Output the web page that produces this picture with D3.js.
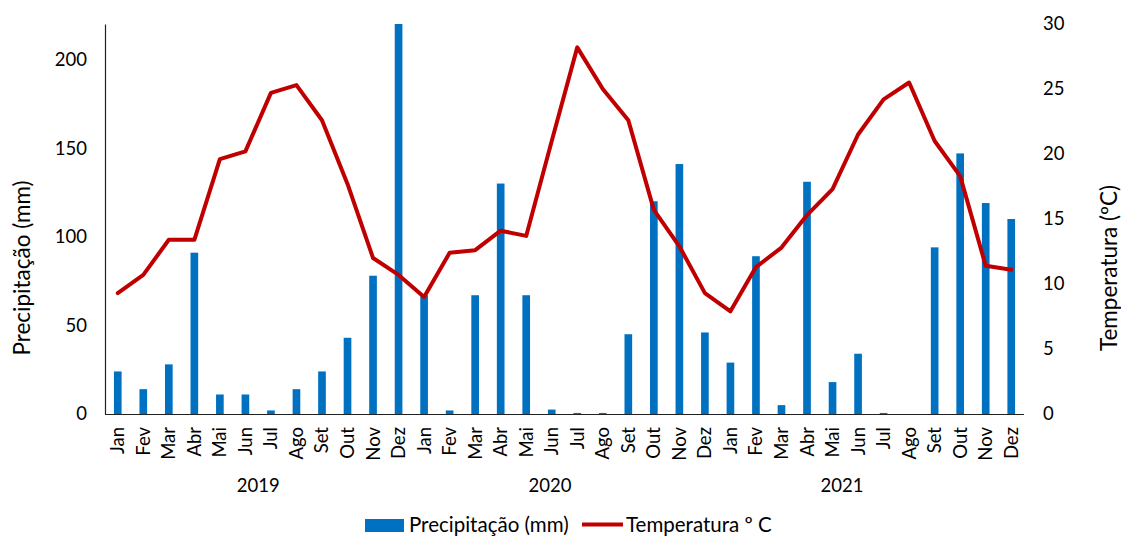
<!DOCTYPE html>
<html>
<head>
<meta charset="utf-8">
<script src="https://cdn.jsdelivr.net/npm/d3@7"></script>
<style>
  html, body { margin: 0; padding: 0; background: #fff; }
  svg { display: block; font-family: Lato, "Open Sans", sans-serif; }
</style>
</head>
<body>
<svg id="chart" width="1121" height="537"></svg>
<script>
// Monthly labels (pt-BR), three years of observations
const months = ["Jan","Fev","Mar","Abr","Mai","Jun","Jul","Ago","Set","Out","Nov","Dez"];
const years = ["2019","2020","2021"];

// Monthly precipitation, mm (2019–2021)
const precipitation = [
  24, 14, 28, 91, 11, 11, 2, 14, 24, 43, 78, 220,
  67, 2, 67, 130, 67, 2.5, 0.6, 0.6, 45, 120, 141, 46,
  29, 89, 5, 131, 18, 34, 0.6, 0, 94, 147, 119, 110
];

// Monthly mean temperature, °C (2019–2021)
const temperature = [
  9.3, 10.7, 13.4, 13.4, 19.6, 20.2, 24.7, 25.3, 22.6, 17.7, 12.0, 10.7,
  9.0, 12.4, 12.6, 14.1, 13.7, 21.0, 28.2, 25.0, 22.6, 15.7, 12.9, 9.3,
  7.9, 11.3, 12.8, 15.3, 17.3, 21.5, 24.2, 25.5, 21.0, 18.3, 11.4, 11.1
];

const precipTicks = [0, 50, 100, 150, 200];
const tempTicks = [0, 5, 10, 15, 20, 25, 30];

const BAR = "#0070C0", LINE = "#C00000";
const TICK_FONT = 18.5;

const svg = d3.select("#chart");
const plotLeft = 105, plotRight = 1024, plotTop = 24, plotBottom = 414;

const rows = precipitation.map((p, i) => ({
  i, month: months[i % 12], year: years[Math.floor(i / 12)], p, t: temperature[i]
}));

const x = d3.scaleBand().domain(d3.range(rows.length)).range([plotLeft, plotRight])
  .paddingInner(0.7).paddingOuter(0.35);
const cx = i => x(i) + x.bandwidth() / 2;
const yP = d3.scaleLinear().domain([0, 220]).range([plotBottom, plotTop]).clamp(true);
const yT = d3.scaleLinear().domain([0, 30]).range([plotBottom, plotTop]);

// Bars
svg.append("g").selectAll("rect").data(rows).join("rect")
  .attr("x", d => x(d.i))
  .attr("width", x.bandwidth())
  .attr("y", d => yP(d.p))
  .attr("height", d => plotBottom - yP(d.p))
  .attr("fill", BAR);

// Temperature line
svg.append("path").datum(rows)
  .attr("fill", "none")
  .attr("stroke", LINE)
  .attr("stroke-width", 4)
  .attr("stroke-linejoin", "round")
  .attr("stroke-linecap", "round")
  .attr("d", d3.line().x(d => cx(d.i)).y(d => yT(d.t)));

// Left axis (precipitation)
const gL = svg.append("g").attr("transform", `translate(${plotLeft},0)`)
  .call(d3.axisLeft(yP).tickValues(precipTicks).tickSize(0).tickPadding(18));
gL.select(".domain").attr("stroke", "#222").attr("stroke-width", 1.2);
gL.selectAll("text").attr("font-size", TICK_FONT).attr("fill", "#000").attr("font-family", "Lato");

// Right axis (temperature), no axis line
const gR = svg.append("g").attr("transform", `translate(${plotRight},0)`)
  .call(d3.axisRight(yT).tickValues(tempTicks).tickSize(0).tickPadding(19));
gR.select(".domain").remove();
gR.selectAll("text").attr("font-size", TICK_FONT).attr("fill", "#000").attr("font-family", "Lato");

// Bottom axis line
svg.append("line")
  .attr("x1", plotLeft).attr("x2", plotRight)
  .attr("y1", plotBottom + 0.5).attr("y2", plotBottom + 0.5)
  .attr("stroke", "#222").attr("stroke-width", 1.2);

// Month labels, rotated
svg.append("g").selectAll("text").data(rows).join("text")
  .attr("transform", d => `translate(${cx(d.i) + 6.5},${plotBottom + 13}) rotate(-90)`)
  .attr("text-anchor", "end")
  .attr("font-size", TICK_FONT)
  .text(d => d.month);

// Year labels under each group of months
const yearCentre = [5.5, 16.93, 28.37];
svg.append("g").selectAll("text").data(years).join("text")
  .attr("x", (d, k) => plotLeft + x.step() * x.paddingOuter() + x.step() * (yearCentre[k] + 0.15))
  .attr("y", 491.5)
  .attr("text-anchor", "middle")
  .attr("font-size", TICK_FONT)
  .text(d => d);

// Axis titles
svg.append("text")
  .attr("transform", "translate(30,268) rotate(-90)")
  .attr("text-anchor", "middle")
  .attr("font-size", 22.5)
  .text("Precipitação (mm)");
svg.append("text")
  .attr("transform", "translate(1117,268) rotate(-90)")
  .attr("text-anchor", "middle")
  .attr("font-size", 22.5)
  .text("Temperatura (ºC)");

// Legend along the bottom edge
const lg = svg.append("g");
lg.append("rect").attr("x", 365).attr("y", 519).attr("width", 39).attr("height", 13).attr("fill", BAR);
lg.append("text").attr("x", 409).attr("y", 532).attr("font-size", 20.5).text("Precipitação (mm)");
lg.append("line").attr("x1", 582).attr("x2", 623).attr("y1", 524.5).attr("y2", 524.5)
  .attr("stroke", LINE).attr("stroke-width", 4);
lg.append("text").attr("x", 626).attr("y", 532).attr("font-size", 20.5).text("Temperatura º C");
</script>
</body>
</html>
